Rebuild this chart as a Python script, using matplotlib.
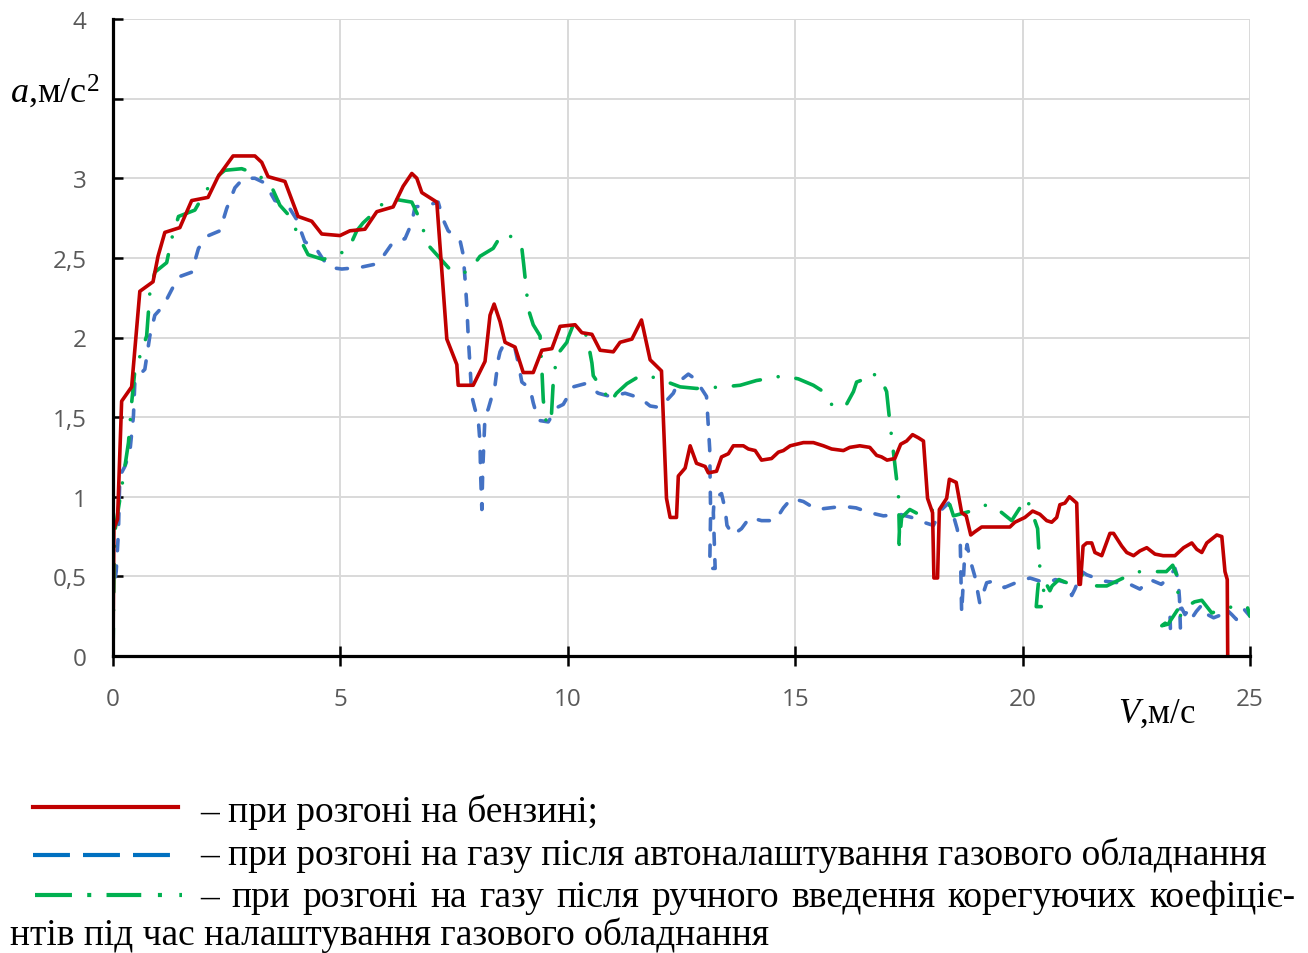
import numpy as np
import matplotlib
matplotlib.use("Agg")
import matplotlib.pyplot as plt
from matplotlib.lines import Line2D

# (V, a) points
petrol = [(0, 0.04), (0.02, 0.8), (0.1, 0.86), (0.19, 1.6), (0.41, 1.69), (0.59, 2.29), (0.88, 2.35),
          (0.99, 2.51), (1.14, 2.66), (1.47, 2.69), (1.73, 2.86), (2.09, 2.88), (2.31, 3.01), (2.64, 3.14),
          (3.12, 3.14), (3.27, 3.10), (3.41, 3.01), (3.78, 2.98), (4.07, 2.76), (4.37, 2.73), (4.59, 2.65),
          (4.99, 2.64), (5.21, 2.67), (5.54, 2.68), (5.8, 2.79), (6.16, 2.82), (6.38, 2.95), (6.57, 3.03),
          (6.68, 3.0), (6.79, 2.91), (7.12, 2.85), (7.34, 1.99), (7.56, 1.83), (7.59, 1.70), (7.92, 1.70),
          (8.18, 1.85), (8.29, 2.14), (8.38, 2.21), (8.51, 2.10), (8.62, 1.97), (8.84, 1.94), (9.02, 1.78),
          (9.24, 1.78), (9.43, 1.92), (9.65, 1.93), (9.83, 2.07), (10.16, 2.08), (10.31, 2.03), (10.53, 2.02),
          (10.71, 1.92), (11.0, 1.91), (11.15, 1.97), (11.41, 1.99), (11.62, 2.11), (11.81, 1.86),
          (12.06, 1.79), (12.17, 0.99), (12.25, 0.87), (12.39, 0.87), (12.43, 1.13), (12.58, 1.18),
          (12.69, 1.32), (12.83, 1.21), (13.02, 1.19), (13.09, 1.15), (13.27, 1.16), (13.38, 1.25),
          (13.53, 1.27), (13.64, 1.32), (13.86, 1.32), (13.97, 1.30), (14.12, 1.29), (14.26, 1.23),
          (14.48, 1.24), (14.63, 1.28), (14.74, 1.29), (14.89, 1.32), (15.18, 1.34), (15.40, 1.34),
          (15.62, 1.32), (15.8, 1.30), (16.06, 1.29), (16.2, 1.31), (16.42, 1.32), (16.64, 1.31),
          (16.79, 1.26), (16.9, 1.25), (17.02, 1.23), (17.19, 1.24), (17.32, 1.33), (17.45, 1.35),
          (17.58, 1.39), (17.71, 1.37), (17.82, 1.35), (17.91, 0.99), (18.02, 0.90), (18.05, 0.49),
          (18.13, 0.49), (18.17, 0.92), (18.33, 0.99), (18.39, 1.11), (18.54, 1.09), (18.66, 0.90),
          (18.76, 0.88), (18.86, 0.76), (18.95, 0.78), (19.1, 0.81), (19.5, 0.81), (19.72, 0.81),
          (19.83, 0.84), (20.05, 0.87), (20.22, 0.91), (20.38, 0.89), (20.53, 0.85), (20.64, 0.84),
          (20.75, 0.87), (20.82, 0.95), (20.93, 0.96), (21.03, 1.0), (21.19, 0.96), (21.24, 0.45),
          (21.27, 0.45), (21.33, 0.69), (21.41, 0.71), (21.52, 0.71), (21.59, 0.65), (21.74, 0.63),
          (21.92, 0.77), (22.0, 0.77), (22.18, 0.69), (22.29, 0.65), (22.44, 0.63), (22.58, 0.66),
          (22.73, 0.68), (22.91, 0.64), (23.09, 0.63), (23.35, 0.63), (23.54, 0.68), (23.72, 0.71),
          (23.83, 0.67), (23.94, 0.65), (24.05, 0.71), (24.27, 0.76), (24.38, 0.75), (24.45, 0.53),
          (24.5, 0.48), (24.51, 0.0)]

gas_auto = [(0, 0), (0.0, 0.4), (0.07, 0.53), (0.12, 0.78), (0.15, 1.13), (0.26, 1.19), (0.37, 1.28),
            (0.45, 1.51), (0.48, 1.72), (0.56, 1.76), (0.70, 1.80), (0.81, 2.01), (0.92, 2.14), (1.11, 2.20),
            (1.29, 2.30), (1.44, 2.38), (1.73, 2.41), (1.88, 2.56), (2.10, 2.64), (2.35, 2.67), (2.50, 2.81),
            (2.68, 2.94), (2.87, 3.0), (3.12, 3.0), (3.34, 2.97), (3.56, 2.86), (3.82, 2.84), (4.04, 2.74),
            (4.22, 2.60), (4.44, 2.57), (4.62, 2.49), (4.77, 2.44), (5.03, 2.43), (5.43, 2.44), (5.76, 2.46),
            (5.94, 2.51), (6.16, 2.60), (6.42, 2.62), (6.57, 2.72), (6.64, 2.82), (6.90, 2.83), (7.15, 2.85),
            (7.26, 2.74), (7.37, 2.67), (7.63, 2.61), (7.70, 2.52), (7.74, 2.37), (7.78, 2.20), (7.81, 2.01),
            (7.85, 1.82), (7.89, 1.63), (7.96, 1.55), (8.03, 1.49), (8.07, 1.34), (8.08, 1.17), (8.11, 0.92),
            (8.13, 1.17), (8.18, 1.51), (8.25, 1.55), (8.40, 1.70), (8.47, 1.86), (8.51, 1.91), (8.58, 1.95),
            (8.73, 1.94), (8.84, 1.93), (8.91, 1.84), (8.99, 1.72), (9.17, 1.68), (9.24, 1.59), (9.28, 1.55),
            (9.35, 1.48), (9.57, 1.47), (9.76, 1.56), (9.90, 1.58), (9.98, 1.62), (10.12, 1.69),
            (10.38, 1.71), (10.67, 1.65), (10.93, 1.63), (11.26, 1.65), (11.59, 1.62), (11.81, 1.57),
            (12.03, 1.56), (12.32, 1.65), (12.43, 1.72), (12.65, 1.77), (12.80, 1.74), (13.05, 1.63),
            (13.12, 1.3), (13.14, 0.9), (13.12, 0.55), (13.24, 0.55), (13.2, 0.9), (13.22, 0.99),
            (13.38, 1.02), (13.46, 0.92), (13.5, 0.82), (13.63, 0.76), (13.82, 0.80), (14.0, 0.87),
            (14.26, 0.85), (14.56, 0.85), (14.74, 0.93), (14.92, 0.99), (15.18, 0.97), (15.47, 0.92),
            (15.76, 0.93), (16.05, 0.94), (16.34, 0.93), (16.64, 0.90), (16.94, 0.88), (17.3, 0.89),
            (17.56, 0.87), (17.82, 0.84), (18.04, 0.82), (18.22, 0.92), (18.37, 0.96), (18.48, 0.88),
            (18.56, 0.80), (18.63, 0.70), (18.66, 0.27), (18.72, 0.6), (18.78, 0.70), (18.84, 0.61),
            (18.95, 0.50), (19.06, 0.33), (19.21, 0.46), (19.35, 0.47), (19.6, 0.43), (19.85, 0.46),
            (20.16, 0.49), (20.38, 0.47), (20.57, 0.46), (20.72, 0.48), (20.97, 0.46), (21.08, 0.38),
            (21.15, 0.42), (21.3, 0.53), (21.41, 0.51), (21.6, 0.49), (21.8, 0.47), (22.1, 0.46),
            (22.36, 0.45), (22.58, 0.42), (22.8, 0.48), (23.05, 0.45), (23.24, 0.50), (23.35, 0.55),
            (23.42, 0.48), (23.45, 0.36), (23.47, 0.17), (23.35, 0.2), (23.25, 0.17), (23.24, 0.27),
            (23.5, 0.3), (23.57, 0.26), (23.68, 0.3), (23.75, 0.25), (23.82, 0.28), (23.94, 0.32),
            (24.0, 0.27), (24.2, 0.24), (24.38, 0.26), (24.45, 0.3), (24.6, 0.26), (24.7, 0.23),
            (24.85, 0.3), (25.0, 0.25)]

gas_manual = [(0, 0), (0.02, 0.45), (0.04, 0.78), (0.23, 1.13), (0.34, 1.34), (0.41, 1.59), (0.48, 1.79),
              (0.52, 1.82), (0.74, 2.01), (0.81, 2.28), (0.92, 2.41), (1.18, 2.47), (1.29, 2.62),
              (1.44, 2.76), (1.80, 2.80), (2.02, 2.91), (2.24, 3.0), (2.46, 3.05), (2.83, 3.06),
              (3.12, 3.03), (3.45, 2.97), (3.67, 2.83), (3.89, 2.76), (4.11, 2.62), (4.29, 2.52),
              (4.62, 2.49), (4.92, 2.52), (5.17, 2.55), (5.36, 2.67), (5.50, 2.72), (5.80, 2.80),
              (6.02, 2.87), (6.16, 2.87), (6.57, 2.85), (6.75, 2.74), (6.93, 2.58), (7.37, 2.44),
              (7.48, 2.41), (7.78, 2.41), (7.89, 2.44), (8.07, 2.51), (8.36, 2.56), (8.55, 2.65),
              (8.8, 2.63), (8.99, 2.56), (9.03, 2.46), (9.10, 2.27), (9.13, 2.18), (9.24, 2.08),
              (9.39, 2.01), (9.43, 1.80), (9.46, 1.61), (9.50, 1.51), (9.54, 1.45), (9.64, 1.51),
              (9.68, 1.72), (9.76, 1.89), (9.98, 1.97), (10.01, 2.0), (10.12, 2.08), (10.42, 2.01),
              (10.53, 1.84), (10.56, 1.76), (10.82, 1.65), (10.93, 1.59), (11.07, 1.65), (11.30, 1.71),
              (11.59, 1.76), (11.88, 1.75), (12.1, 1.73), (12.47, 1.69), (12.83, 1.68), (13.42, 1.69),
              (13.79, 1.70), (14.15, 1.73), (14.37, 1.74), (14.74, 1.76), (15.07, 1.74), (15.40, 1.70),
              (15.62, 1.66), (15.8, 1.58), (16.09, 1.56), (16.28, 1.66), (16.35, 1.72), (16.53, 1.74),
              (16.64, 1.78), (16.87, 1.75), (17.01, 1.66), (17.08, 1.47), (17.16, 1.28), (17.27, 1.01),
              (17.29, 0.78), (17.27, 0.65), (17.34, 0.87), (17.52, 0.92), (17.78, 0.88), (18.11, 0.93),
              (18.4, 0.95), (18.48, 0.88), (18.99, 0.92), (19.21, 0.95), (19.5, 0.91), (19.76, 0.85),
              (19.94, 0.93), (20.05, 0.99), (20.15, 0.95), (20.33, 0.80), (20.38, 0.55), (20.33, 0.41),
              (20.3, 0.31), (20.45, 0.31), (20.47, 0.48), (20.6, 0.41), (20.65, 0.44), (20.8, 0.48),
              (20.97, 0.46), (21.3, 0.51), (21.44, 0.48), (21.63, 0.44), (21.85, 0.44), (22.07, 0.47),
              (22.36, 0.51), (22.58, 0.53), (22.8, 0.53), (23.16, 0.53), (23.3, 0.57), (23.4, 0.5),
              (23.43, 0.3), (23.2, 0.2), (23.06, 0.19), (23.2, 0.22), (23.45, 0.24), (23.54, 0.30),
              (23.78, 0.34), (23.94, 0.35), (24.16, 0.27), (24.43, 0.30), (24.65, 0.31), (24.94, 0.31),
              (25.0, 0.25)]

x_ticks = [0, 5, 10, 15, 20, 25]
x_tick_labels = ["0", "5", "10", "15", "20", "25"]
y_ticks = [0, 0.5, 1, 1.5, 2, 2.5, 3, 3.5, 4]
y_tick_labels = ["0", "0,5", "1", "1,5", "2", "2,5", "3", "", "4"]

legend_lines = [
    "– при розгоні на бензині;",
    "– при розгоні на газу після автоналаштування газового обладнання",
    "– при розгоні на газу після ручного введення корегуючих коефіціє-",
    "нтів під час налаштування газового обладнання",
]

RED = "#C00000"
BLUE = "#4472C4"
GREEN = "#00B050"

plt.rcParams["lines.scale_dashes"] = False
plt.rcParams["mathtext.fontset"] = "custom"
plt.rcParams["mathtext.rm"] = "Liberation Serif"
plt.rcParams["mathtext.it"] = "Liberation Serif:italic"

W, H = 1308, 954
fig = plt.figure(figsize=(W / 100, H / 100), dpi=100)
ax = fig.add_axes([113 / W, 1 - 657 / H, 1137 / W, 637 / H])


def fx(px):
    return px / W


def fy(py):
    return 1 - py / H


for pts, col, ls in [(gas_auto, BLUE, (0, (8, 11))),
                     (gas_manual, GREEN, (0, (20, 13, 0.01, 13))),
                     (petrol, RED, "-")]:
    v, a = np.array(pts).T
    ax.plot(v, a, color=col, lw=2.6, linestyle=ls, dash_capstyle="round",
            solid_joinstyle="round", dash_joinstyle="round")

ax.set_xlim(0, 25)
ax.set_ylim(0, 4)
ax.set_xticks(x_ticks)
ax.set_xticklabels(x_tick_labels)
ax.set_yticks(y_ticks)
ax.set_yticklabels(y_tick_labels)
ax.grid(color="#d9d9d9", lw=1.4)
ax.set_axisbelow(True)

for s in ["top", "right"]:
    ax.spines[s].set_visible(False)
for s in ["left", "bottom"]:
    ax.spines[s].set_linewidth(2.3)
    ax.spines[s].set_color("black")

ax.tick_params(axis="y", direction="in", length=7.5, width=1.8, pad=19,
               labelsize=17.5, labelcolor="#595959")
ax.tick_params(axis="x", direction="inout", length=14, width=1.8, pad=15,
               labelsize=17.5, labelcolor="#595959")
for lab in ax.get_xticklabels() + ax.get_yticklabels():
    lab.set_family("Open Sans")

# axis titles
fig.text(fx(100), fy(103), r"$a$,м/с$^2$", family="Liberation Serif", fontsize=26,
         ha="right", va="baseline")
fig.text(fx(1118), fy(723), r"$V$,м/с", family="Liberation Serif", fontsize=25,
         ha="left", va="baseline")

# legend samples
fig.add_artist(Line2D([fx(33), fx(178)], [fy(808), fy(808)], color=RED, lw=3))
fig.add_artist(Line2D([fx(33), fx(173)], [fy(856), fy(856)], color="#0070C0", lw=3,
                      linestyle=(0, (26.6, 9.4)), dash_capstyle="butt"))
fig.add_artist(Line2D([fx(35), fx(182)], [fy(896), fy(896)], color=GREEN, lw=3,
                      linestyle=(0, (26.6, 11, 2.9, 11, 25, 12, 2.9, 12.5, 2.9, 100)),
                      dash_capstyle="butt"))

LFS = 27
fig.text(fx(200), fy(822), legend_lines[0], family="Liberation Serif", fontsize=LFS, va="baseline")
fig.text(fx(200), fy(865), legend_lines[1], family="Liberation Serif", fontsize=LFS, va="baseline")

# justified third line
renderer = fig.canvas.get_renderer()
words = legend_lines[2].split(" ")
objs = [fig.text(0, fy(907), w, family="Liberation Serif", fontsize=LFS, va="baseline") for w in words]
widths = [o.get_window_extent(renderer).width for o in objs]
gap = (1295 - 200 - sum(widths)) / (len(words) - 1)
xpos = 200
for o, wd in zip(objs, widths):
    o.set_x(fx(xpos))
    xpos += wd + gap

fig.text(fx(10), fy(945), legend_lines[3], family="Liberation Serif", fontsize=LFS, va="baseline")

fig.savefig("out.png", dpi=100)
